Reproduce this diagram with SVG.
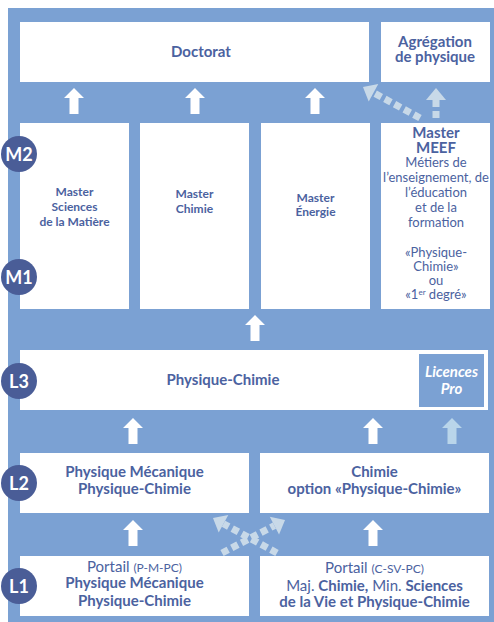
<svg xmlns="http://www.w3.org/2000/svg" width="494" height="622" viewBox="0 0 494 622">
<style>
.box{fill:#ffffff}
.t{font-family:Lato,"Liberation Sans",sans-serif;fill:#4b62a0;text-anchor:middle}
.b{font-weight:bold}
.h{font-size:15px}
.m{font-size:12px}
.s{font-size:13px}
.w{fill:#ffffff;font-style:italic;font-size:15px}
.lvl circle{fill:#4a5d97}
.lvl text{font-family:Lato,"Liberation Sans",sans-serif;font-weight:bold;font-size:18px;fill:#ffffff;text-anchor:middle}
.dash{stroke:#c8d9e8;stroke-width:7;stroke-dasharray:7 4;fill:none}
</style>
<defs>
<path id="up" d="M0,0 L10,10 L4.5,10 L4.5,26 L-4.5,26 L-4.5,10 L-10,10 Z"/>
<marker id="dh" markerUnits="userSpaceOnUse" markerWidth="14" markerHeight="22" viewBox="0 -11 13 22" refX="0" refY="0" orient="auto">
<path d="M0,-10 L12,0 L0,10 Z" fill="#c8d9e8"/>
</marker>
</defs>
<rect x="8" y="8" width="486" height="614" fill="#7ba1d3"/>

<g id="doctorat"><rect class="box" x="20" y="22" width="349" height="60"/><text class="t b h" x="201" y="57">Doctorat</text></g>
<g id="agregation"><rect class="box" x="381" y="22" width="109" height="60"/><text class="t b h" x="435" y="47">Agrégation</text><text class="t b h" x="435" y="62">de physique</text></g>

<g id="master-sm"><rect class="box" x="20" y="123" width="109" height="186"/><text class="t b m" x="74.5" y="196">Master</text><text class="t b m" x="74.5" y="211">Sciences</text><text class="t b m" x="74.5" y="226">de la Matière</text></g>
<g id="master-chimie"><rect class="box" x="140" y="123" width="109" height="186"/><text class="t b m" x="194.5" y="198">Master</text><text class="t b m" x="194.5" y="213">Chimie</text></g>
<g id="master-energie"><rect class="box" x="261" y="123" width="109" height="186"/><text class="t b m" x="315.5" y="202">Master</text><text class="t b m" x="315.5" y="216">Énergie</text></g>
<g id="master-meef"><rect class="box" x="381" y="123" width="109" height="186"/>
<text class="t b h" x="436" y="138">Master</text><text class="t b h" x="436" y="153">MEEF</text>
<text class="t s" x="436" y="167">Métiers de</text><text class="t s" x="436" y="182">l’enseignement, de</text><text class="t s" x="436" y="197">l’éducation</text><text class="t s" x="436" y="212">et de la</text><text class="t s" x="436" y="227">formation</text>
<text class="t s" x="436" y="257">«Physique-</text><text class="t s" x="436" y="271">Chimie»</text><text class="t s" x="436" y="285">ou</text><text class="t s" x="436" y="299">«1<tspan font-size="8" dy="-4">er</tspan><tspan dy="4"> degré»</tspan></text>
</g>

<g id="l3"><rect class="box" x="20" y="350" width="468" height="60"/><text class="t b h" x="223" y="385">Physique-Chimie</text></g>
<g id="licences-pro"><rect x="419" y="354" width="65" height="53" fill="#7ba1d3"/><text class="t b w" x="451.5" y="377">Licences</text><text class="t b w" x="451.5" y="394">Pro</text></g>

<g id="l2-left"><rect class="box" x="20" y="453" width="229" height="60"/><text class="t b h" x="134.5" y="477">Physique Mécanique</text><text class="t b h" x="134.5" y="494">Physique-Chimie</text></g>
<g id="l2-right"><rect class="box" x="260" y="453" width="229" height="60"/><text class="t b h" x="374.5" y="477">Chimie</text><text class="t b h" x="374.5" y="494">option «Physique-Chimie»</text></g>

<g id="l1-left"><rect class="box" x="20" y="556" width="229" height="60"/><text class="t h" x="134.5" y="572">Portail <tspan font-size="12">(P-M-PC)</tspan></text><text class="t b h" x="134.5" y="588">Physique Mécanique</text><text class="t b h" x="134.5" y="606">Physique-Chimie</text></g>
<g id="l1-right"><rect class="box" x="260" y="556" width="229" height="60"/><text class="t h" x="374.5" y="573">Portail <tspan font-size="12">(C-SV-PC)</tspan></text><text class="t h" x="374.5" y="591">Maj. <tspan font-weight="bold">Chimie,</tspan> Min. <tspan font-weight="bold">Sciences</tspan></text><text class="t b h" x="374.5" y="607">de la Vie et Physique-Chimie</text></g>

<g id="connectors">
<use href="#up" x="74" y="88" fill="#ffffff"/>
<use href="#up" x="195" y="88" fill="#ffffff"/>
<use href="#up" x="315" y="88" fill="#ffffff"/>
<use href="#up" x="255" y="315" fill="#ffffff"/>
<use href="#up" x="133" y="418" fill="#ffffff"/>
<use href="#up" x="373" y="418" fill="#ffffff"/>
<use href="#up" x="452" y="418" fill="#b9d5ea"/>
<use href="#up" x="133" y="520" fill="#ffffff"/>
<use href="#up" x="373" y="520" fill="#ffffff"/>
<line class="dash" x1="420" y1="118" x2="373.5" y2="92.7" marker-end="url(#dh)"/>
<line class="dash" x1="436" y1="118" x2="436" y2="100" marker-end="url(#dh)"/>
<line class="dash" x1="277" y1="553" x2="223.5" y2="523.8" marker-end="url(#dh)"/>
<line class="dash" x1="222" y1="553" x2="274.4" y2="525.6" marker-end="url(#dh)"/>
</g>

<g id="levels" class="lvl">
<g id="lvl-m2"><circle cx="19" cy="154" r="18"/><text x="19" y="160.5">M2</text></g>
<g id="lvl-m1"><circle cx="19" cy="277" r="18"/><text x="19" y="283.5">M1</text></g>
<g id="lvl-l3"><circle cx="19" cy="381" r="18"/><text x="19" y="387.5">L3</text></g>
<g id="lvl-l2"><circle cx="19" cy="483" r="18"/><text x="19" y="489.5">L2</text></g>
<g id="lvl-l1"><circle cx="19" cy="586" r="18"/><text x="19" y="592.5">L1</text></g>
</g>
</svg>
